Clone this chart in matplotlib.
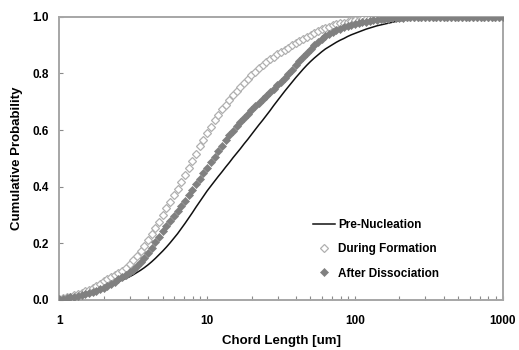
import matplotlib
matplotlib.use("Agg")
import matplotlib.pyplot as plt
from matplotlib.ticker import FixedLocator, NullFormatter

plt.rcParams['font.family'] = ['Liberation Sans', 'DejaVu Sans']
plt.rcParams['font.weight'] = 'bold'

# Chord length channels (um)
chord_length = [
    1.000, 1.059, 1.122, 1.189, 1.259, 1.334, 1.413, 1.496, 1.585, 1.679,
    1.778, 1.884, 1.995, 2.113, 2.239, 2.371, 2.512, 2.661, 2.818, 2.985,
    3.162, 3.350, 3.548, 3.758, 3.981, 4.217, 4.467, 4.732, 5.012, 5.309,
    5.623, 5.957, 6.310, 6.683, 7.079, 7.499, 7.943, 8.414, 8.913, 9.441,
    10.00, 10.59, 11.22, 11.89, 12.59, 13.34, 14.13, 14.96, 15.85, 16.79,
    17.78, 18.84, 19.95, 21.13, 22.39, 23.71, 25.12, 26.61, 28.18, 29.85,
    31.62, 33.50, 35.48, 37.58, 39.81, 42.17, 44.67, 47.32, 50.12, 53.09,
    56.23, 59.57, 63.10, 66.83, 70.79, 74.99, 79.43, 84.14, 89.13, 94.41,
    100.0, 105.9, 112.2, 118.9, 125.9, 133.4, 141.3, 149.6, 158.5, 167.9,
    177.8, 188.4, 199.5, 211.3, 223.9, 237.1, 251.2, 266.1, 281.8, 298.5,
    316.2, 335.0, 354.8, 375.8, 398.1, 421.7, 446.7, 473.2, 501.2, 530.9,
    562.3, 595.7, 631.0, 668.3, 707.9, 749.9, 794.3, 841.4, 891.3, 944.1,
    1000.0,
]

pre_nucleation = [
    0.004, 0.006, 0.008, 0.010, 0.012, 0.015, 0.019, 0.023, 0.027, 0.032,
    0.037, 0.042, 0.047, 0.052, 0.056, 0.060, 0.065, 0.070, 0.076, 0.082,
    0.089, 0.097, 0.105, 0.114, 0.124, 0.135, 0.147, 0.160, 0.173, 0.187,
    0.202, 0.218, 0.234, 0.252, 0.270, 0.289, 0.308, 0.328, 0.347, 0.366,
    0.385, 0.402, 0.419, 0.436, 0.452, 0.469, 0.485, 0.502, 0.518, 0.534,
    0.551, 0.567, 0.584, 0.601, 0.618, 0.634, 0.651, 0.668, 0.686, 0.703,
    0.720, 0.737, 0.753, 0.769, 0.785, 0.800, 0.815, 0.829, 0.842, 0.854,
    0.865, 0.876, 0.886, 0.894, 0.902, 0.910, 0.917, 0.923, 0.930, 0.936,
    0.941, 0.946, 0.951, 0.956, 0.960, 0.964, 0.968, 0.971, 0.974, 0.977,
    0.980, 0.983, 0.985, 0.987, 0.989, 0.991, 0.993, 0.995, 0.996, 0.997,
    0.998, 0.999, 0.999, 1.000, 1.000, 1.000, 1.000, 1.000, 1.000, 1.000,
    1.000, 1.000, 1.000, 1.000, 1.000, 1.000, 1.000, 1.000, 1.000, 1.000,
    1.000,
]

during_formation = [
    0.004, 0.007, 0.009, 0.012, 0.016, 0.020, 0.025, 0.031, 0.037, 0.044,
    0.051, 0.058, 0.066, 0.073, 0.080, 0.087, 0.095, 0.104, 0.114, 0.126,
    0.140, 0.156, 0.173, 0.192, 0.211, 0.232, 0.254, 0.277, 0.300, 0.323,
    0.346, 0.369, 0.392, 0.416, 0.440, 0.466, 0.492, 0.517, 0.542, 0.566,
    0.590, 0.612, 0.634, 0.654, 0.673, 0.690, 0.706, 0.722, 0.737, 0.752,
    0.766, 0.780, 0.794, 0.806, 0.818, 0.829, 0.840, 0.850, 0.859, 0.868,
    0.876, 0.884, 0.891, 0.899, 0.906, 0.914, 0.921, 0.929, 0.936, 0.943,
    0.949, 0.955, 0.961, 0.965, 0.969, 0.973, 0.976, 0.979, 0.982, 0.985,
    0.987, 0.989, 0.991, 0.993, 0.994, 0.995, 0.996, 0.997, 0.998, 0.999,
    0.999, 1.000, 1.000, 1.000, 1.000, 1.000, 1.000, 1.000, 1.000, 1.000,
    1.000, 1.000, 1.000, 1.000, 1.000, 1.000, 1.000, 1.000, 1.000, 1.000,
    1.000, 1.000, 1.000, 1.000, 1.000, 1.000, 1.000, 1.000, 1.000, 1.000,
    1.000,
]

after_dissociation = [
    0.003, 0.005, 0.007, 0.009, 0.011, 0.014, 0.017, 0.020, 0.024, 0.028,
    0.033, 0.038, 0.043, 0.050, 0.057, 0.065, 0.073, 0.081, 0.089, 0.098,
    0.107, 0.119, 0.133, 0.148, 0.165, 0.184, 0.204, 0.224, 0.244, 0.262,
    0.279, 0.296, 0.313, 0.331, 0.350, 0.369, 0.388, 0.408, 0.427, 0.447,
    0.467, 0.487, 0.506, 0.526, 0.545, 0.563, 0.581, 0.598, 0.615, 0.630,
    0.644, 0.658, 0.672, 0.685, 0.697, 0.709, 0.721, 0.733, 0.745, 0.758,
    0.771, 0.785, 0.799, 0.813, 0.828, 0.843, 0.858, 0.873, 0.887, 0.900,
    0.912, 0.923, 0.932, 0.939, 0.946, 0.952, 0.957, 0.962, 0.966, 0.970,
    0.974, 0.977, 0.980, 0.983, 0.985, 0.987, 0.989, 0.991, 0.992, 0.993,
    0.994, 0.995, 0.996, 0.997, 0.998, 0.998, 0.999, 0.999, 1.000, 1.000,
    1.000, 1.000, 1.000, 1.000, 1.000, 1.000, 1.000, 1.000, 1.000, 1.000,
    1.000, 1.000, 1.000, 1.000, 1.000, 1.000, 1.000, 1.000, 1.000, 1.000,
    1.000,
]

y_ticks = [0.0, 0.2, 0.4, 0.6, 0.8, 1.0]
y_tick_labels = ['0.0', '0.2', '0.4', '0.6', '0.8', '1.0']
x_ticks = [1, 10, 100, 1000]
x_tick_labels = ['1', '10', '100', '1000']

fig = plt.figure(figsize=(5.19, 3.50), dpi=100)
ax = fig.add_axes([0.1143, 0.1429, 0.8543, 0.8094])

ax.plot(chord_length, pre_nucleation, color='#111111', lw=1.1, zorder=3,
        label='Pre-Nucleation')
ax.plot(chord_length, during_formation, ls='none', marker='D', ms=3.9,
        mfc='white', mec='#b0b0b0', mew=0.9, zorder=4, label='During Formation')
ax.plot(chord_length, after_dissociation, ls='none', marker='D', ms=3.9,
        mfc='#808080', mec='#808080', mew=0.5, zorder=5, label='After Dissociation')

ax.set_xscale('log')
ax.set_xlim(1, 1000)
ax.set_ylim(0, 1.0)
ax.xaxis.set_major_locator(FixedLocator(x_ticks))
ax.set_xticklabels(x_tick_labels)
ax.xaxis.set_minor_locator(FixedLocator([m * d for d in (1, 10, 100) for m in range(2, 10)]))
ax.xaxis.set_minor_formatter(NullFormatter())
ax.set_yticks(y_ticks)
ax.set_yticklabels(y_tick_labels)

for s in ax.spines.values():
    s.set_color('#a6a6a6')
    s.set_linewidth(1.4)

ax.tick_params(axis='x', which='both', direction='in', length=3, width=0.8,
               color='#8a8a8a', labelsize=8.5, pad=11)
ax.tick_params(axis='y', which='major', direction='in', length=3, width=0.8,
               color='#8a8a8a', labelsize=8.5, pad=7.5)
for lab in ax.get_xticklabels() + ax.get_yticklabels():
    lab.set_fontweight('bold')

ax.set_xlabel('Chord Length [um]', fontsize=9.5, fontweight='bold')
ax.set_ylabel('Cumulative Probability', fontsize=9.5, fontweight='bold')
ax.xaxis.set_label_coords(0.5, -0.125)
ax.yaxis.set_label_coords(-0.082, 0.5)

leg = ax.legend(loc='center left', bbox_to_anchor=(0.603, 0.288),
                bbox_transform=fig.transFigure, frameon=False,
                prop={'weight': 'bold', 'size': 8.5}, handlelength=1.9,
                handletextpad=0.25, labelspacing=1.05, borderpad=0,
                borderaxespad=0)

fig.savefig('out.png', dpi=100)
